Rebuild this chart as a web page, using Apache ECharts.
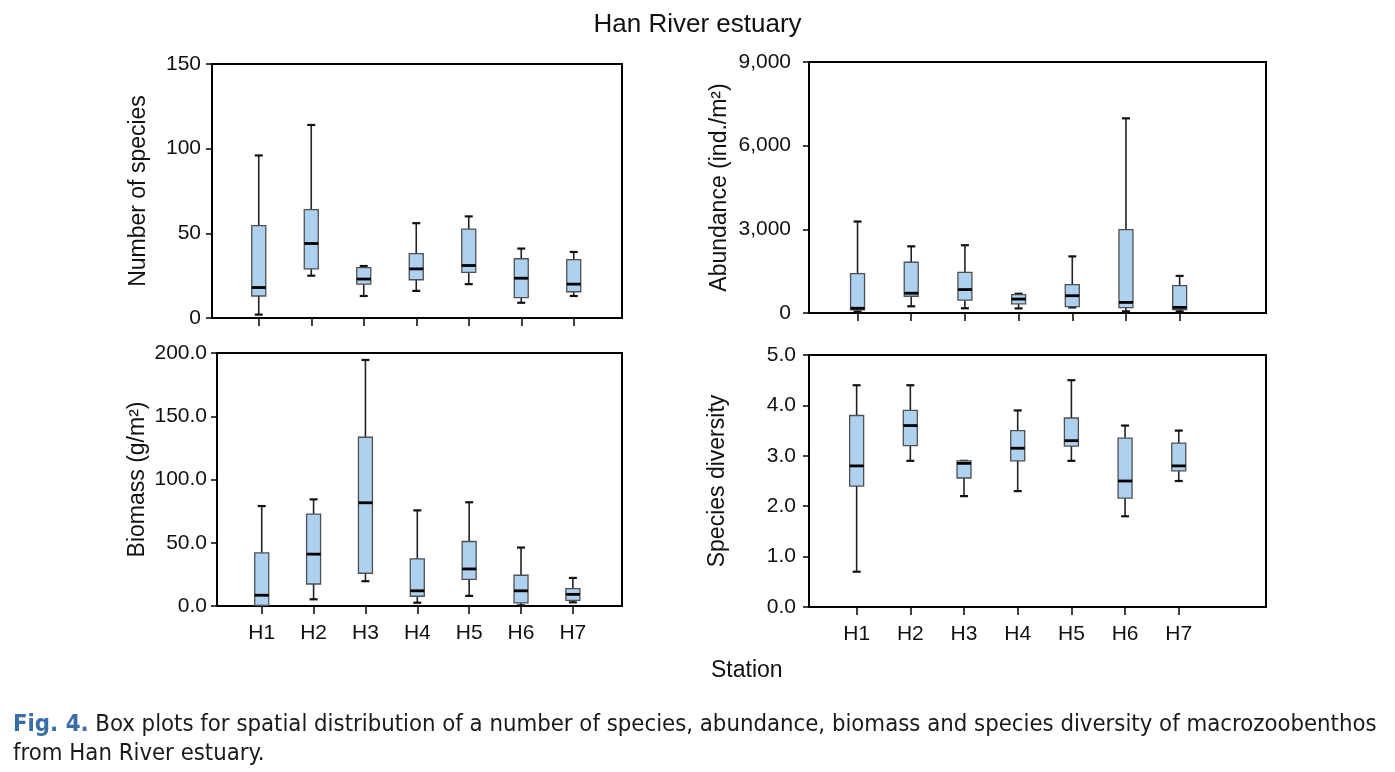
<!DOCTYPE html>
<html>
<head>
<meta charset="utf-8">
<script src="https://cdn.jsdelivr.net/npm/echarts@6/dist/echarts.min.js"></script>
<style>
html,body{margin:0;padding:0;background:#fff;}
#chart{width:1395px;height:772px;}
</style>
</head>
<body>
<div id="chart"></div>
<script>
// ---- data (five-number summaries: [min, Q1, median, Q3, max]) ----
const stations = ['H1', 'H2', 'H3', 'H4', 'H5', 'H6', 'H7'];

const numberOfSpecies = [
  [2, 13, 18, 54.5, 96],
  [25, 29, 44, 64, 114],
  [13, 20, 23, 29.7, 30.7],
  [16, 22.6, 29, 38, 56],
  [20, 27, 31, 52.5, 60],
  [9, 12, 23.5, 35, 41],
  [13, 15.5, 20, 34.5, 39]
];

const abundance = [
  [50, 110, 170, 1410, 3280],
  [240, 600, 710, 1820, 2390],
  [170, 460, 840, 1460, 2430],
  [165, 330, 500, 660, 690],
  [200, 230, 620, 1020, 2030],
  [60, 190, 380, 2990, 6980],
  [60, 120, 200, 980, 1330]
];

const biomass = [
  [0, 0.5, 8.5, 42, 79],
  [5.3, 17.4, 41, 72.7, 84.3],
  [19.6, 25.9, 81.6, 133.4, 194.5],
  [2.6, 7.7, 12, 37.3, 75.6],
  [8, 21, 29.3, 51, 82],
  [0.5, 2.4, 12, 24.3, 46.2],
  [2.9, 4.5, 9.2, 13.7, 22.2]
];

const speciesDiversity = [
  [0.7, 2.4, 2.8, 3.8, 4.4],
  [2.9, 3.2, 3.6, 3.9, 4.4],
  [2.2, 2.56, 2.85, 2.9, 2.9],
  [2.3, 2.9, 3.15, 3.5, 3.9],
  [2.9, 3.19, 3.3, 3.75, 4.5],
  [1.8, 2.16, 2.5, 3.35, 3.6],
  [2.5, 2.7, 2.8, 3.25, 3.5]
];

const yTitles = ['Number of species', 'Abundance (ind./m\u00B2)', 'Biomass (g/m\u00B2)', 'Species diversity'];
const yMax = [150, 9000, 200, 5];
const yInterval = [50, 3000, 50, 1];
const chartTitle = 'Han River estuary';
const xTitle = 'Station';
const captionLabel = 'Fig. 4.';
const captionText = ' Box plots for spatial distribution of a number of species, abundance, biomass and species diversity of macrozoobenthos\nfrom Han River estuary.';

// ---- layout ----
const FONT = '"Liberation Sans", Arial, sans-serif';
const CAPFONT = '"Liberation Sans Narrow", "DejaVu Sans Condensed", "Open Sans", sans-serif';
const panels = [
  {frame: {left: 212, top: 64, width: 410, height: 254}, data: {left: 232.5, width: 367.5}, nameGap: 62, labelMargin: 11, xLabels: false},
  {frame: {left: 809, top: 62, width: 457, height: 251}, data: {left: 830.7, width: 375.8}, nameGap: 78, labelMargin: 18, xLabels: false},
  {frame: {left: 217, top: 353, width: 405, height: 253}, data: {left: 235.8, width: 363}, nameGap: 68, labelMargin: 10, xLabels: true},
  {frame: {left: 809, top: 355, width: 457, height: 252}, data: {left: 829.8, width: 375.8}, nameGap: 80, labelMargin: 13, xLabels: true}
];
const seriesData = [numberOfSpecies, abundance, biomass, speciesDiversity];
const formatters = [
  v => String(v),
  v => v.toLocaleString('en-US'),
  v => v.toFixed(1),
  v => v.toFixed(1)
];

const grids = [], xAxes = [], yAxes = [], series = [];

function renderBox(params, api) {
  const x = api.value(0);
  const lo = api.coord([x, api.value(1)]);
  const q1 = api.coord([x, api.value(2)]);
  const md = api.coord([x, api.value(3)]);
  const q3 = api.coord([x, api.value(4)]);
  const hi = api.coord([x, api.value(5)]);
  const cx = lo[0];
  const hw = 7, cw = 4;
  const wStyle = {stroke: '#222', lineWidth: 1.6};
  return {
    type: 'group',
    children: [
      {type: 'line', shape: {x1: cx, y1: q3[1], x2: cx, y2: hi[1]}, style: wStyle},
      {type: 'line', shape: {x1: cx, y1: lo[1], x2: cx, y2: q1[1]}, style: wStyle},
      {type: 'line', shape: {x1: cx - cw, y1: hi[1], x2: cx + cw, y2: hi[1]}, style: {stroke: '#111', lineWidth: 2.2}},
      {type: 'line', shape: {x1: cx - cw, y1: lo[1], x2: cx + cw, y2: lo[1]}, style: {stroke: '#111', lineWidth: 2.2}},
      {type: 'rect', shape: {x: cx - hw, y: q3[1], width: hw * 2, height: q1[1] - q3[1]},
        style: {fill: '#aed1ef', stroke: '#505050', lineWidth: 1.3}},
      {type: 'line', shape: {x1: cx - hw, y1: md[1], x2: cx + hw, y2: md[1]}, style: {stroke: '#000', lineWidth: 2.8}}
    ]
  };
}

panels.forEach((p, i) => {
  const fg = i * 2, dg = i * 2 + 1;
  grids.push({left: p.frame.left, top: p.frame.top, width: p.frame.width, height: p.frame.height,
    show: true, borderColor: '#000', borderWidth: 2, backgroundColor: 'transparent'});
  grids.push({left: p.data.left, top: p.frame.top, width: p.data.width, height: p.frame.height, show: false});

  xAxes.push({gridIndex: fg, type: 'value', min: 0, max: 1, show: false});
  xAxes.push({
    gridIndex: dg, type: 'category', data: stations, boundaryGap: true,
    axisLine: {show: false},
    axisTick: {show: true, alignWithLabel: true, length: 8, lineStyle: {color: '#111', width: 1.6}},
    axisLabel: {show: p.xLabels, margin: 17, fontSize: 21, color: '#111', fontFamily: FONT},
    splitLine: {show: false}
  });

  yAxes.push({
    gridIndex: fg, type: 'value', min: 0, max: yMax[i], interval: yInterval[i],
    name: yTitles[i], nameLocation: 'middle', nameGap: p.nameGap,
    nameTextStyle: {fontSize: 23, color: '#111', fontFamily: FONT},
    axisLine: {show: true, lineStyle: {color: '#000', width: 2}},
    axisTick: {show: true, length: 6, lineStyle: {color: '#111', width: 1.6}},
    axisLabel: {margin: p.labelMargin, fontSize: 21, color: '#111', fontFamily: FONT, formatter: formatters[i]},
    splitLine: {show: false}
  });
  yAxes.push({gridIndex: dg, type: 'value', min: 0, max: yMax[i], interval: yInterval[i], show: false, splitLine: {show: false}});

  series.push({
    type: 'custom',
    xAxisIndex: dg, yAxisIndex: dg,
    renderItem: renderBox,
    encode: {x: 0, y: [1, 2, 3, 4, 5]},
    clip: false,
    silent: true,
    data: seriesData[i].map((d, k) => [k].concat(d))
  });
});

const chart = echarts.init(document.getElementById('chart'), null, {renderer: 'canvas'});
chart.setOption({
  animation: false,
  backgroundColor: '#fff',
  title: [
    {text: chartTitle, left: 'center', top: 7, textStyle: {fontSize: 26, fontWeight: 'normal', color: '#111', fontFamily: FONT}},
    {text: xTitle, left: 706, top: 654, textStyle: {fontSize: 23, fontWeight: 'normal', color: '#111', fontFamily: FONT}},
    {
      text: '{a|' + captionLabel + '}' + captionText,
      left: 8, top: 705,
      textStyle: {fontSize: 23.7, fontWeight: 'normal', color: '#1a1a1a', lineHeight: 29, fontFamily: CAPFONT,
        rich: {a: {fontSize: 23.7, fontWeight: 'bold', color: '#3a6ea8', lineHeight: 29, fontFamily: CAPFONT}}}
    }
  ],
  grid: grids,
  xAxis: xAxes,
  yAxis: yAxes,
  series: series
});
</script>
</body>
</html>
